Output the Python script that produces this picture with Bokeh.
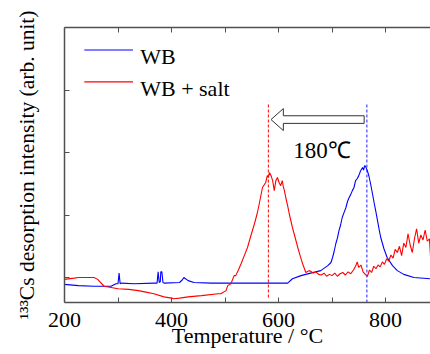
import numpy as np
from bokeh.plotting import figure
from bokeh.models import (FixedTicker, Label, Range1d, LinearAxis)
from bokeh.embed import file_html
from bokeh.resources import INLINE

# ---- data ----
wb_T = [200, 226, 255, 287, 296, 300, 302, 304, 306, 330, 367, 373, 375, 377, 379, 380, 382, 384, 386,
        415, 420, 423, 431, 442, 474, 530, 617, 626, 642, 660, 679, 692, 698, 701, 704, 707, 710, 713,
        716, 719, 722, 726, 729, 732, 735, 738, 741, 744, 747, 750, 753, 757, 759, 761, 763, 766, 769,
        772, 776, 779, 782, 785, 788, 791, 797, 803, 813, 822, 834, 853, 884]
wb_v = [0.89, 0.87, 0.86, 0.86, 0.90, 0.90, 1.07, 0.90, 0.91, 0.90, 0.91, 0.91, 1.09, 0.92, 0.93, 1.09, 1.09, 0.92, 0.91,
        0.92, 0.96, 1.00, 0.95, 0.92, 0.91, 0.91, 0.91, 0.98, 1.03, 1.07, 1.11, 1.19, 1.24, 1.32, 1.42, 1.54, 1.63, 1.75,
        1.84, 1.96, 2.03, 2.12, 2.22, 2.28, 2.33, 2.39, 2.44, 2.55, 2.58, 2.63, 2.70, 2.76, 2.72, 2.79, 2.77, 2.71, 2.62,
        2.50, 2.32, 2.18, 2.05, 1.91, 1.77, 1.64, 1.46, 1.32, 1.19, 1.11, 1.05, 1.00, 0.98]

salt_T = [200, 218, 226, 255, 262, 274, 300, 320, 338, 350, 367, 386, 400, 405, 415, 431, 456, 487, 492, 502,
          505, 511, 517, 520, 525, 530, 536, 542, 548, 555, 560, 564, 570, 573, 576, 579, 581, 583, 586, 589,
          592, 595, 598, 601, 604, 607, 609, 611, 614, 617, 620, 626, 631, 636, 641, 645, 651, 657, 660, 665,
          670, 675, 680, 685, 690, 695, 700, 705, 710, 715, 720, 725, 730, 735, 740, 744, 747, 750, 754, 758,
          762, 766, 770, 774, 778, 782, 786, 790, 794, 798, 802, 806, 810, 814, 818, 822, 826, 830, 834, 838,
          842, 846, 850, 854, 858, 862, 866, 870, 874, 878, 882, 884]
salt_v = [0.97, 0.99, 1.00, 1.00, 0.97, 0.86, 0.82, 0.81, 0.79, 0.77, 0.74, 0.69, 0.67, 0.66, 0.67, 0.69, 0.71, 0.74, 0.74, 0.79,
          0.87, 0.90, 1.03, 1.03, 1.12, 1.22, 1.35, 1.48, 1.66, 1.86, 2.02, 2.18, 2.44, 2.48, 2.52, 2.63, 2.60, 2.68, 2.63, 2.55,
          2.39, 2.55, 2.60, 2.52, 2.47, 2.55, 2.45, 2.39, 2.26, 2.15, 2.02, 1.80, 1.64, 1.48, 1.33, 1.22, 1.08, 1.11, 1.10, 1.07,
          1.09, 1.05, 1.04, 1.07, 1.02, 1.05, 1.03, 1.07, 1.02, 1.06, 1.08, 1.04, 1.09, 1.06, 1.12, 1.18, 1.25, 1.16, 1.20, 1.09,
          1.05, 1.02, 1.12, 1.08, 1.18, 1.14, 1.20, 1.17, 1.25, 1.21, 1.30, 1.26, 1.36, 1.31, 1.45, 1.40, 1.50, 1.35, 1.55, 1.48,
          1.70, 1.52, 1.40, 1.62, 1.78, 1.55, 1.68, 1.60, 1.76, 1.58, 1.62, 1.34]

series_names = ["WB", "WB + salt"]
series_colors = ["#0000ff", "#ff0000"]

peak_salt_T = 581
peak_wb_T = 765
shift_label = "180\u2103"
x_ticks = [200, 400, 600, 800]
x_minor = [300, 500, 700]
y_ticks = [1, 2, 3, 4]

# annotation geometry (data coordinates)
arrow_T = [586, 609, 609, 760, 760, 609, 609]
arrow_v = [3.527, 3.703, 3.588, 3.588, 3.466, 3.466, 3.351]
legend_line_T = [237, 328]
legend_line_v = [4.64, 4.13]
legend_text_T = 341.5
legend_text_v = [4.53, 4.02]

SERIF = "Liberation Serif"
AX = "#505050"

p = figure(width=430, height=354, output_backend="svg", toolbar_location=None,
           x_range=Range1d(200, 884), y_range=Range1d(0.6, 5.0),
           min_border_left=64, min_border_top=27, min_border_bottom=52, min_border_right=0,
           x_axis_location=None, y_axis_location=None)
p.outline_line_color = None
p.xgrid.visible = False
p.ygrid.visible = False
p.background_fill_color = "white"
p.border_fill_color = "white"

bx = LinearAxis(ticker=FixedTicker(ticks=x_ticks, minor_ticks=x_minor))
tx = LinearAxis(ticker=FixedTicker(ticks=x_ticks, minor_ticks=x_minor))
ly = LinearAxis(ticker=FixedTicker(ticks=y_ticks))
for ax in (bx, tx, ly):
    ax.axis_line_color = AX
    ax.axis_line_width = 1.5
    ax.major_tick_line_color = AX
    ax.minor_tick_line_color = AX
    ax.major_tick_in = 5
    ax.major_tick_out = 0
    ax.minor_tick_in = 5
    ax.minor_tick_out = 0
    ax.major_label_text_font = SERIF
    ax.major_label_text_font_size = "22px"
    ax.major_label_text_color = "black"
tx.major_label_overrides = {t: "" for t in x_ticks}
ly.major_label_overrides = {t: "" for t in y_ticks}
ly.major_label_standoff = 0
ly.axis_label = "\u00b9\u00b3\u00b3Cs desorption intensity (arb. unit)"
ly.axis_label_text_font = SERIF
ly.axis_label_text_font_size = "21.5px"
ly.axis_label_text_font_style = "normal"
ly.axis_label_text_color = "black"
ly.axis_label_standoff = 26
bx.major_label_standoff = 10
bx.axis_label = "Temperature / \u00b0C"
bx.axis_label_text_font = SERIF
bx.axis_label_text_font_size = "22px"
bx.axis_label_text_font_style = "normal"
bx.axis_label_text_color = "black"
bx.axis_label_standoff = -7
p.add_layout(bx, "below")
p.add_layout(tx, "above")
p.add_layout(ly, "left")

# dashed markers
p.line([peak_salt_T, peak_salt_T], [0.68, 3.78], line_color="red", line_dash="3 2", line_width=1)
p.line([peak_wb_T, peak_wb_T], [0.6, 3.78], line_color="#6a6aff", line_dash="3 2", line_width=1.5)

p.patch(arrow_T, arrow_v, fill_color="white", line_color="#333333", line_width=1)

p.line(wb_T, wb_v, line_color=series_colors[0], line_width=1.1)
p.line(salt_T, salt_v, line_color=series_colors[1], line_width=1.1)

p.add_layout(Label(x=681, y=3.04, text=shift_label, text_font=SERIF, text_font_size="23px",
                   text_align="center", text_baseline="middle", text_color="black"))

# legend (drawn directly)
for name, col, lv, tv in zip(series_names, series_colors, legend_line_v, legend_text_v):
    p.line(legend_line_T, [lv, lv], line_color=col, line_width=1.1)
    p.add_layout(Label(x=legend_text_T, y=tv, text=name, text_font=SERIF, text_font_size="22px",
                       text_align="left", text_baseline="alphabetic", text_color="black"))

open("out.html", "w").write(file_html(p, INLINE))
